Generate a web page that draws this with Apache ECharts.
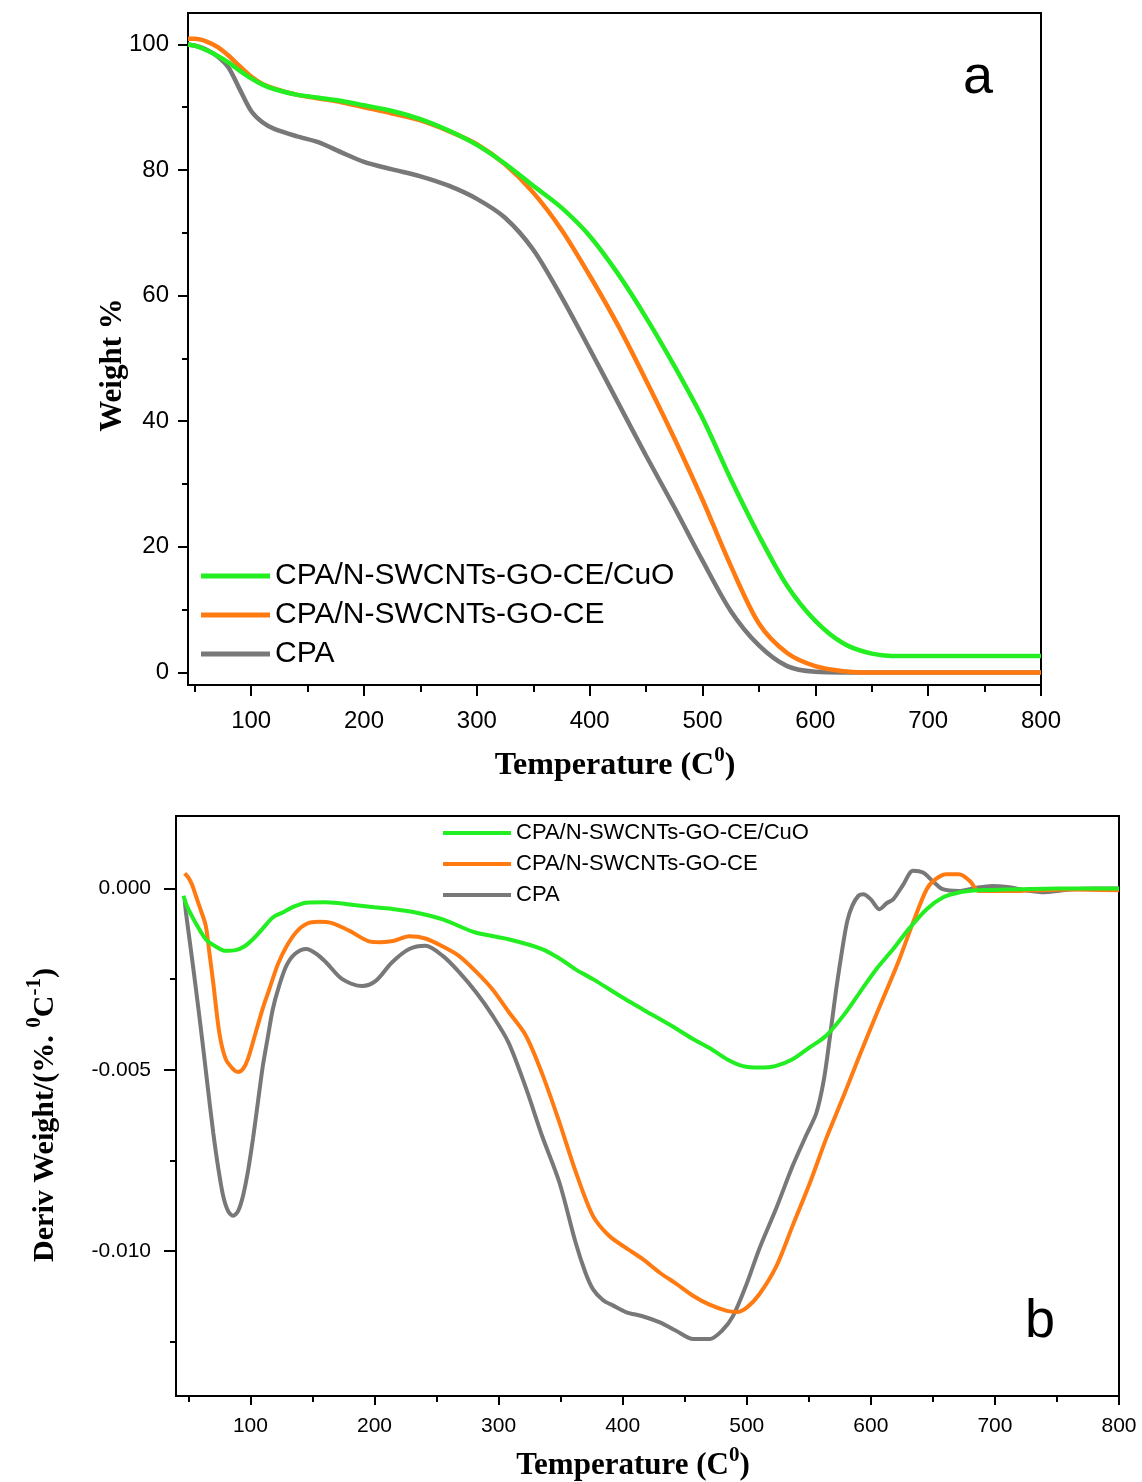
<!DOCTYPE html>
<html><head><meta charset="utf-8">
<script src="https://cdn.jsdelivr.net/npm/echarts@6/dist/echarts.min.js"></script>
<style>html,body{margin:0;padding:0;background:#fff}#c{width:1142px;height:1482px}</style>
</head><body><div id="c"></div>
<script>
// ---------- names / colours ----------
const seriesNames = ['CPA/N-SWCNTs-GO-CE/CuO', 'CPA/N-SWCNTs-GO-CE', 'CPA'];
const seriesColors = ['#22ee22', '#ff7b12', '#787878'];

// ---------- panel a : TGA (Weight %) ----------
const tempA = [44,50,60,70,80,90,100,110,120,140,160,180,200,225,250,275,300,325,350,375,400,425,450,475,500,525,550,575,600,625,650,675,700,750,800];
const weightCuO = [100,99.8,99.1,98.2,97.1,95.8,94.6,93.6,92.9,92.0,91.5,91.0,90.3,89.4,88.1,86.3,84.0,81.0,77.5,74.0,69.5,63.5,56.5,48.8,40.5,30.8,21.8,13.8,8.2,4.6,3.0,2.6,2.6,2.6,2.6];
const weightGOCE = [100.9,100.9,100.5,99.6,98.2,96.5,94.9,93.7,93.0,92.0,91.4,90.8,90.0,89.0,87.9,86.2,84.1,80.9,76.4,70.5,63.2,55.3,46.5,37.3,27.5,17.0,7.8,3.1,1.0,0.2,0,0,0,0,0];
const weightCPA = [100,99.8,99.2,98.1,96.3,92.8,89.4,87.6,86.6,85.4,84.4,82.8,81.3,80.1,79.0,77.5,75.4,72.4,67.3,59.8,51.5,43.0,34.5,26.3,17.8,9.8,4.3,1.0,0.1,0,0,0,0,0,0];

const xTicksA = [100,200,300,400,500,600,700,800];
const xMinorA = [50,150,250,350,450,550,650,750];
const yTicksA = [0,20,40,60,80,100];
const yMinorA = [10,30,50,70,90];

// ---------- panel b : DTG (Deriv Weight) ----------
const tempB_CuO = [46,49,55,64,72,80,88,95,102,110,118,126,135,145,160,170,185,200,215,233,255,280,308,335,350,362,376,402,416,440,457,470,484,497,510,523,537,550,564,578,591,605,618,631,645,658,671,685,698,720,750,780,800];
const derivCuO = [-0.0002,-0.0005,-0.0009,-0.0014,-0.0016,-0.00172,-0.0017,-0.0016,-0.0014,-0.0011,-0.0008,-0.00066,-0.0005,-0.00039,-0.00038,-0.0004,-0.00046,-0.00052,-0.00057,-0.00066,-0.00085,-0.0012,-0.0014,-0.00167,-0.00195,-0.00223,-0.0025,-0.00305,-0.00333,-0.0038,-0.00416,-0.0044,-0.00471,-0.0049,-0.00494,-0.0049,-0.00471,-0.0044,-0.00406,-0.0035,-0.00287,-0.0022,-0.00167,-0.0011,-0.00057,-0.00025,-0.00011,-0.00005,-0.00004,-0.00002,0,0,0];

const tempB_GOCE = [47,50,53,56,60,64,67,70,75,80,86,90,94,98,104,110,115,122,129,137,145,155,165,180,195,205,215,228,241,255,268,282,295,308,322,335,349,362,376,389,402,416,430,443,457,470,484,492,500,510,524,537,551,564,577,591,604,614,623,634,645,652,661,671,680,687,700,712,730,760,800];
const derivGOCE = [0.00042,0.0003,0.0001,-0.0002,-0.0006,-0.00103,-0.0018,-0.0026,-0.004,-0.0047,-0.00498,-0.00506,-0.00498,-0.0047,-0.004,-0.0033,-0.0028,-0.0021,-0.0016,-0.0012,-0.00098,-0.00092,-0.00095,-0.00117,-0.00145,-0.00148,-0.00145,-0.00132,-0.00138,-0.0016,-0.00186,-0.0023,-0.00278,-0.0034,-0.00406,-0.0051,-0.00645,-0.0078,-0.00903,-0.00958,-0.0099,-0.01022,-0.0106,-0.0109,-0.01124,-0.01148,-0.01165,-0.01168,-0.01156,-0.0112,-0.01041,-0.0093,-0.00811,-0.0069,-0.00581,-0.0046,-0.00351,-0.0027,-0.00195,-0.00094,-0.00002,0.00025,0.00039,0.00039,0.0002,-0.00007,-0.00007,-0.00007,-0.00005,-0.00003,-0.00005];

const tempB_CPA = [47,48,53,58,62,66,70,74,78,82,86,90,94,98,102,106,110,114,118,123,129,136,145,153,161,174,190,201,214,228,241,255,268,282,295,308,322,335,349,362,370,376,384,392,403,416,430,443,457,470,480,489,500,510,524,537,548,556,562,567,572,577,581,585,590,594,600,607,613,618,626,634,642,650,658,671,685,698,710,725,740,760,780,800];
const derivCPA = [-0.0003,-0.00066,-0.00195,-0.0033,-0.00443,-0.0056,-0.00673,-0.0077,-0.00848,-0.0089,-0.00903,-0.0089,-0.00848,-0.0078,-0.00691,-0.0059,-0.00489,-0.0041,-0.00333,-0.0027,-0.00213,-0.0018,-0.00167,-0.0018,-0.00204,-0.0025,-0.00269,-0.00255,-0.00204,-0.00167,-0.00158,-0.00186,-0.0023,-0.00287,-0.0035,-0.00425,-0.0055,-0.00682,-0.00811,-0.00976,-0.0106,-0.01105,-0.01135,-0.0115,-0.01169,-0.0118,-0.01197,-0.0122,-0.01243,-0.01243,-0.0122,-0.01179,-0.0109,-0.00995,-0.0088,-0.00765,-0.0068,-0.0062,-0.0053,-0.0041,-0.0028,-0.00167,-0.0009,-0.00048,-0.0002,-0.00016,-0.0003,-0.00057,-0.0004,-0.0003,0.0001,0.00049,0.00044,0.0002,-0.00002,-0.00007,0.00002,0.00007,0.00004,-0.00005,-0.0001,-0.00003,0,0];

const xTicksB = [100,200,300,400,500,600,700,800];
const xMinorB = [50,150,250,350,450,550,650,750];
const yTicksB = [0,-0.005,-0.01];
const yMinorB = [-0.0025,-0.0075,-0.0125];

// ---------- build ----------
const zip = (xs, ys) => xs.map((x, i) => [x, ys[i]]);
const black = '#000';
const sans = 'Liberation Sans, Arial, sans-serif';
const serif = 'Liberation Serif, Times New Roman, serif';

function mainAxis(grid, pos, min, max, labels, fontSize, margin, tickLen, fmt) {
  return {
    type: 'value', gridIndex: grid, position: pos, min: min, max: max,
    axisLine: { show: true, onZero: false, lineStyle: { color: black, width: 2 } },
    axisTick: { show: true, inside: false, length: tickLen, customValues: labels, lineStyle: { color: black, width: 2 } },
    axisLabel: { show: true, customValues: labels, fontSize: fontSize, fontFamily: sans, color: black, margin: margin, formatter: fmt },
    splitLine: { show: false }
  };
}
function minorAxis(grid, pos, min, max, ticks, tickLen) {
  return {
    type: 'value', gridIndex: grid, position: pos, offset: 0, min: min, max: max,
    axisLine: { show: false, onZero: false },
    axisTick: { show: true, inside: false, length: tickLen, customValues: ticks, lineStyle: { color: black, width: 2 } },
    axisLabel: { show: false },
    splitLine: { show: false }
  };
}

const xMinA = 44, xMaxA = 800, yMinA = -2, yMaxA = 105;
const xMinB = 40, xMaxB = 800, yMinB = -0.014, yMaxB = 0.002;

const dataA = [weightCuO, weightGOCE, weightCPA];
const dataB = [zip(tempB_CuO, derivCuO), zip(tempB_GOCE, derivGOCE), zip(tempB_CPA, derivCPA)];

const series = [];
[2, 1, 0].forEach(i => {
  series.push({
    name: seriesNames[i], type: 'line', xAxisIndex: 0, yAxisIndex: 0,
    data: zip(tempA, dataA[i]), showSymbol: false, smooth: 0.3,
    lineStyle: { color: seriesColors[i], width: 4.5 }, itemStyle: { color: seriesColors[i] },
    animation: false
  });
});
[2, 1, 0].forEach(i => {
  series.push({
    name: seriesNames[i], type: 'line', xAxisIndex: 2, yAxisIndex: 2,
    data: dataB[i], showSymbol: false, smooth: 0.3,
    lineStyle: { color: seriesColors[i], width: 4 }, itemStyle: { color: seriesColors[i] },
    animation: false
  });
});

function gtext(x, y, text, fontSize, family, weight, rotation, rich) {
  return {
    type: 'text', x: x, y: y, rotation: rotation || 0, z: 100,
    style: {
      text: text, fontSize: fontSize, fontFamily: family, fontWeight: weight, fill: black,
      textAlign: 'center', textVerticalAlign: 'middle', align: 'center', verticalAlign: 'middle',
      rich: rich || {}
    }
  };
}
const supRich = (fs, raise) => ({
  sup: { fontSize: fs, fontWeight: 'bold', fontFamily: serif, fill: black, color: black,
         verticalAlign: 'bottom', padding: [0, 0, raise, 0] }
});

const option = {
  backgroundColor: '#fff',
  animation: false,
  grid: [
    { left: 188, top: 13, width: 853, height: 672, show: true, borderColor: black, borderWidth: 2, backgroundColor: 'transparent' },
    { left: 176, top: 816, width: 943, height: 580, show: true, borderColor: black, borderWidth: 2, backgroundColor: 'transparent' }
  ],
  xAxis: [
    mainAxis(0, 'bottom', xMinA, xMaxA, xTicksA, 24, 24, 11, v => String(v)),
    minorAxis(0, 'bottom', xMinA, xMaxA, xMinorA, 7),
    mainAxis(1, 'bottom', xMinB, xMaxB, xTicksB, 21, 20, 9, v => String(v)),
    minorAxis(1, 'bottom', xMinB, xMaxB, xMinorB, 6)
  ],
  yAxis: [
    mainAxis(0, 'left', yMinA, yMaxA, yTicksA, 24, 19, 10, v => String(v)),
    minorAxis(0, 'left', yMinA, yMaxA, yMinorA, 6),
    mainAxis(1, 'left', yMinB, yMaxB, yTicksB, 21, 25, 12, v => Number(v).toFixed(3)),
    minorAxis(1, 'left', yMinB, yMaxB, yMinorB, 6)
  ],
  legend: [
    { data: seriesNames, orient: 'vertical', left: 196, top: 556, icon: 'rect', itemWidth: 69, itemHeight: 5, itemGap: 9,
      selectedMode: false, textStyle: { fontSize: 30, fontFamily: sans, color: black, lineHeight: 30 } },
    { data: seriesNames, orient: 'vertical', left: 438, top: 816, icon: 'rect', itemWidth: 68, itemHeight: 4, itemGap: 7,
      selectedMode: false, textStyle: { fontSize: 22, fontFamily: sans, color: black, lineHeight: 24 } }
  ],
  series: series,
  graphic: [
    gtext(978, 78, 'a', 54, sans, 'normal'),
    gtext(1040, 1322, 'b', 54, sans, 'normal'),
    gtext(615, 766, 'Temperature (C{sup|0})', 32, serif, 'bold', 0, supRich(21, 20)),
    gtext(113, 365, 'Weight %', 31, serif, 'bold', Math.PI / 2),
    gtext(45, 1115, 'Deriv Weight/(%. {sup|0}C{sup|-1})', 30, serif, 'bold', Math.PI / 2, supRich(21, 20)),
    gtext(633, 1466, 'Temperature (C{sup|0})', 31, serif, 'bold', 0, supRich(21, 20))
  ]
};

const chart = echarts.init(document.getElementById('c'), null, { renderer: 'canvas' });
chart.setOption(option);
</script>
</body></html>
